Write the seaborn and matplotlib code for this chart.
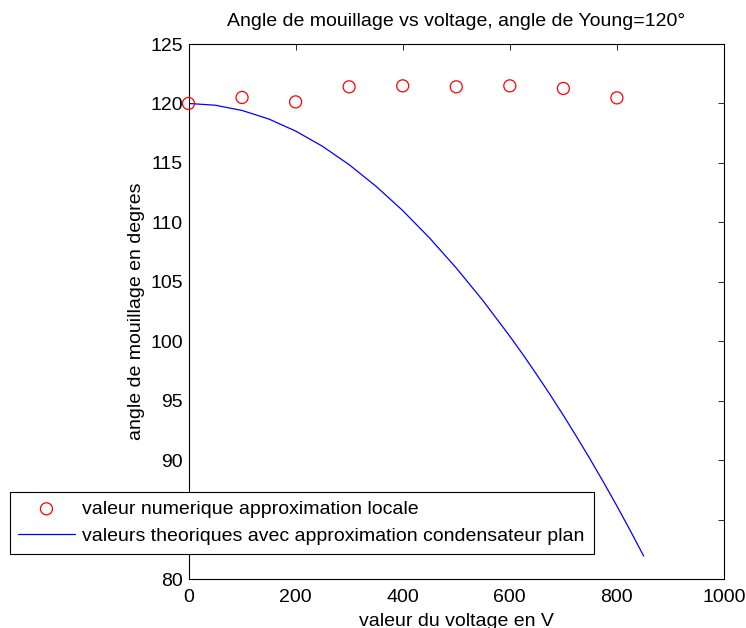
import matplotlib
matplotlib.use("Agg")
import matplotlib.pyplot as plt
import seaborn as sns
import pandas as pd

# numerical points (local approximation)
volt_num = [0, 100, 200, 300, 400, 500, 600, 700, 800]
angle_num = [120.0, 120.5, 120.13, 121.4, 121.48, 121.4, 121.48, 121.26, 120.47]

# theoretical curve (plane capacitor approximation)
volt_th = [0, 50, 100, 150, 200, 250, 300, 350, 400, 450, 500, 550,
           600, 625, 650, 675, 700, 725, 750, 775, 800, 825, 850]
angle_th = [120.0, 119.85, 119.41, 118.69, 117.68, 116.40, 114.85, 113.04,
            110.99, 108.69, 106.16, 103.41, 100.42, 98.85, 97.21, 95.52,
            93.77, 91.95, 90.08, 88.14, 86.14, 84.07, 81.93]

df_num = pd.DataFrame({"V": volt_num, "angle": angle_num})
df_th = pd.DataFrame({"V": volt_th, "angle": angle_th})

sns.set_style("white")
plt.rcParams['font.family'] = ['Liberation Sans', 'DejaVu Sans']
plt.rcParams['font.size'] = 14
plt.rcParams['text.color'] = 'black'
plt.rcParams['axes.labelcolor'] = 'black'

fig = plt.figure(figsize=(7.46, 6.28), dpi=100)
ax = fig.add_axes([188.5 / 746, 1 - 579 / 628, (724 - 188.5) / 746, (579 - 44) / 628])

sns.scatterplot(data=df_num, x="V", y="angle", ax=ax, marker="o", s=75,
                facecolors="none", edgecolor="red", linewidth=0.9,
                label="valeur numerique approximation locale", clip_on=False, zorder=3)
sns.lineplot(data=df_th, x="V", y="angle", ax=ax, color="blue", linewidth=0.9,
             label="valeurs theoriques avec approximation condensateur plan")

ax.set_xlim(0, 1000)
ax.set_ylim(80, 125)
ax.set_xticks(range(0, 1001, 200))
ax.set_yticks(range(80, 126, 5))
ax.tick_params(direction="in", length=4, width=0.6, top=True, right=True,
               labelsize=14, colors="black")
ax.tick_params(axis="x", pad=7)
ax.tick_params(axis="y", pad=4)
for s in ax.spines.values():
    s.set_color("black")
    s.set_linewidth(0.8)

ax.set_title("Angle de mouillage vs voltage, angle de Young=120°", fontsize=14, pad=13)
ax.set_xlabel("valeur du voltage en V", fontsize=14, labelpad=5)
ax.set_ylabel("angle de mouillage en degres", fontsize=14, labelpad=4)

leg = ax.legend(loc="lower left", bbox_to_anchor=(9.5 / 746, 1 - 554 / 628),
                bbox_transform=fig.transFigure, fontsize=14, handlelength=2.9,
                handletextpad=0.4, labelspacing=0.5, borderpad=0.45,
                frameon=True, fancybox=False, framealpha=1, borderaxespad=0)
leg.get_frame().set_edgecolor("black")
leg.get_frame().set_linewidth(0.8)

fig.savefig("out.png", dpi=100)
